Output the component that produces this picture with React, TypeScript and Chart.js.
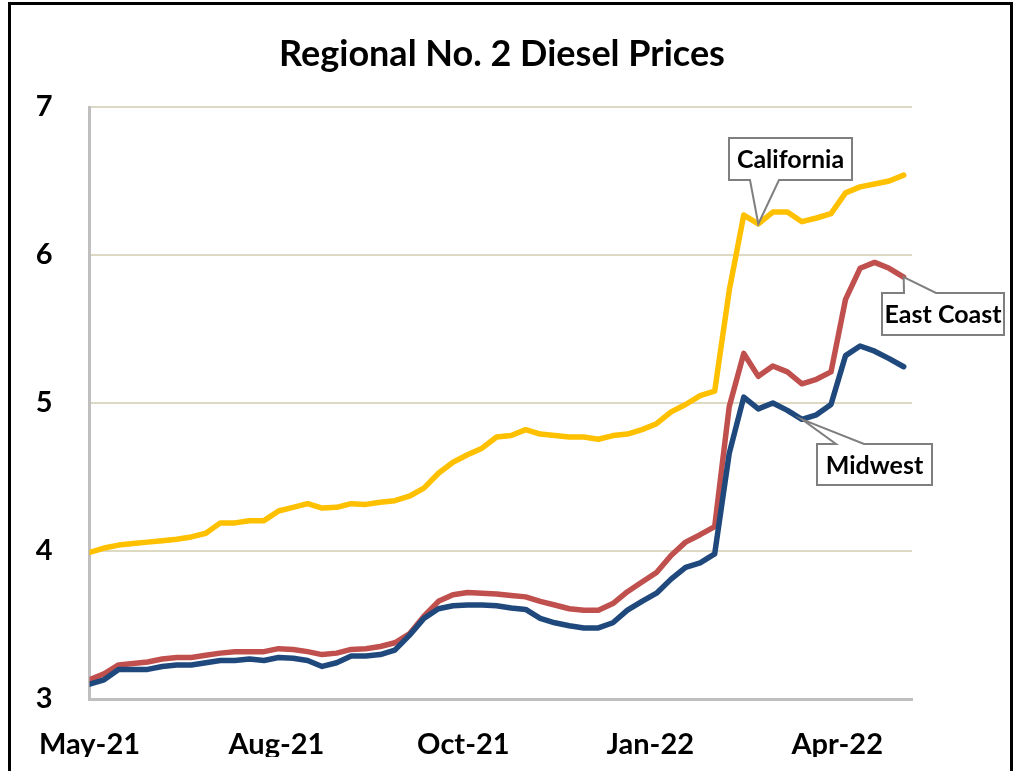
import { useEffect, useRef } from 'react';
import { Chart, registerables } from 'chart.js';

Chart.register(...registerables);

// Weekly prices, first week = 3 May 2021 (x measured in days from that date)
const startLabel = '2021-05-03';
const chartTitle = 'Regional No. 2 Diesel Prices';
const midwest = [
  3.10, 3.13, 3.20, 3.20, 3.20, 3.22, 3.23, 3.23, 3.245, 3.26, 3.26, 3.27, 3.26, 3.28, 3.275, 3.26, 3.22, 3.245, 3.29, 3.29, 3.30,
  3.33, 3.43, 3.545, 3.61, 3.63, 3.635, 3.635, 3.63, 3.615, 3.605, 3.545, 3.515, 3.495, 3.48, 3.48, 3.515, 3.60, 3.66, 3.715, 3.81,
  3.89, 3.92, 3.98, 4.66, 5.04, 4.96, 5.00, 4.95, 4.89, 4.92, 4.99, 5.32, 5.385, 5.35, 5.30, 5.245,
];
const eastCoast = [
  3.13, 3.17, 3.23, 3.24, 3.25, 3.27, 3.28, 3.28, 3.295, 3.31, 3.32, 3.32, 3.32, 3.34, 3.335, 3.32, 3.30, 3.31, 3.335, 3.34, 3.355,
  3.38, 3.44, 3.56, 3.66, 3.705, 3.72, 3.715, 3.71, 3.70, 3.69, 3.66, 3.635, 3.61, 3.60, 3.60, 3.645, 3.725, 3.79, 3.855, 3.97,
  4.06, 4.11, 4.165, 4.975, 5.335, 5.18, 5.25, 5.21, 5.13, 5.16, 5.21, 5.70, 5.91, 5.95, 5.91, 5.85,
];
const california = [
  3.99, 4.02, 4.04, 4.05, 4.06, 4.07, 4.08, 4.095, 4.12, 4.19, 4.19, 4.205, 4.205, 4.27, 4.295, 4.32, 4.29, 4.295, 4.32, 4.315, 4.33,
  4.34, 4.37, 4.425, 4.525, 4.60, 4.65, 4.695, 4.77, 4.78, 4.82, 4.79, 4.78, 4.77, 4.77, 4.755, 4.78, 4.79, 4.82, 4.86, 4.94,
  4.99, 5.05, 5.08, 5.76, 6.27, 6.21, 6.29, 6.29, 6.225, 6.25, 6.28, 6.42, 6.46, 6.48, 6.50, 6.54,
];
const seriesNames = ['Midwest', 'East Coast', 'California'];
const seriesColors = ['#1F497D', '#C0504D', '#FFC000'];
const xTickDays = [0, 90, 180, 270, 360];
const xTickLabels = ['May-21', 'Aug-21', 'Oct-21', 'Jan-22', 'Apr-22'];
const yTicks = [3, 4, 5, 6, 7];

const FONT = 'Lato, "Open Sans", sans-serif';

type Callout = {
  text: string;
  series: number;
  index: number;
  box: [number, number, number, number];
  side: 'top' | 'bottom';
  wedge: [number, number];
};

const callouts: Callout[] = [
  { text: 'California', series: 2, index: 46, box: [729, 138, 852, 180], side: 'bottom', wedge: [750, 779] },
  { text: 'East Coast', series: 1, index: 56, box: [882, 293, 1004, 335], side: 'top', wedge: [904, 936] },
  { text: 'Midwest', series: 0, index: 49, box: [817, 444, 932, 485], side: 'top', wedge: [836, 864] },
];

const titlePlugin = {
  id: 'customTitle',
  afterDraw(chart: any) {
    const ctx = chart.ctx;
    ctx.save();
    ctx.fillStyle = '#000000';
    ctx.font = `bold 36px ${FONT}`;
    ctx.textAlign = 'center';
    ctx.textBaseline = 'middle';
    ctx.fillText(chartTitle, 502, 54);
    ctx.restore();
  },
};

const calloutPlugin = {
  id: 'callouts',
  afterDatasetsDraw(chart: any) {
    const ctx = chart.ctx;
    const xs = chart.scales.x;
    const ys = chart.scales.y;
    const all = [midwest, eastCoast, california];
    ctx.save();
    for (const c of callouts) {
      const tx = xs.getPixelForValue(c.index * 7);
      const ty = ys.getPixelForValue(all[c.series][c.index]);
      const [l, t, r, b] = c.box;
      const [w1, w2] = c.wedge;
      ctx.beginPath();
      if (c.side === 'bottom') {
        ctx.moveTo(l, t);
        ctx.lineTo(r, t);
        ctx.lineTo(r, b);
        ctx.lineTo(w2, b);
        ctx.lineTo(tx, ty);
        ctx.lineTo(w1, b);
        ctx.lineTo(l, b);
      } else {
        ctx.moveTo(l, t);
        ctx.lineTo(w1, t);
        ctx.lineTo(tx, ty);
        ctx.lineTo(w2, t);
        ctx.lineTo(r, t);
        ctx.lineTo(r, b);
        ctx.lineTo(l, b);
      }
      ctx.closePath();
      ctx.fillStyle = '#ffffff';
      ctx.fill();
      ctx.lineWidth = 2;
      ctx.strokeStyle = '#7f7f7f';
      ctx.lineJoin = 'miter';
      ctx.stroke();
      ctx.fillStyle = '#000000';
      ctx.font = `bold 25px ${FONT}`;
      ctx.textAlign = 'center';
      ctx.textBaseline = 'middle';
      ctx.fillText(c.text, (l + r) / 2, (t + b) / 2 + 1);
    }
    ctx.restore();
  },
};

export default function App() {
  const ref = useRef<HTMLCanvasElement>(null);
  useEffect(() => {
    const canvas = ref.current!;
    const all = [midwest, eastCoast, california];
    const chart = new Chart(canvas, {
      type: 'line',
      data: {
        datasets: all.map((vals, s) => ({
          label: seriesNames[s],
          data: vals.map((v, i) => ({ x: i * 7, y: v })),
          borderColor: seriesColors[s],
          backgroundColor: seriesColors[s],
          borderWidth: 5.5,
          pointRadius: 0,
          tension: 0,
          borderJoinStyle: 'round' as const,
          borderCapStyle: 'round' as const,
          fill: false,
        })),
      },
      options: {
        responsive: false,
        animation: false,
        devicePixelRatio: 1,
        layout: { padding: { top: 107, left: 0, right: 105, bottom: 14 } },
        plugins: {
          legend: { display: false },
          tooltip: { enabled: false },
          title: { display: false, text: chartTitle },
        },
        scales: {
          x: {
            type: 'linear',
            min: 0,
            max: 396,
            grid: { display: false, drawTicks: false },
            border: { display: true, color: '#bfbfbf', width: 3 },
            afterBuildTicks: (scale: any) => {
              scale.ticks = xTickDays.map((v) => ({ value: v }));
            },
            afterFit: (scale: any) => {
              scale.height = 58;
            },
            ticks: {
              autoSkip: false,
              maxRotation: 0,
              padding: 28,
              color: '#000000',
              font: { family: FONT, size: 29, weight: 'bold' },
              callback: (v: any) => {
                const k = xTickDays.indexOf(Number(v));
                return k >= 0 ? xTickLabels[k] : '';
              },
            },
          },
          y: {
            type: 'linear',
            min: 3,
            max: 7,
            afterBuildTicks: (scale: any) => {
              scale.ticks = yTicks.map((v) => ({ value: v }));
            },
            afterFit: (scale: any) => {
              scale.width = 89.5;
            },
            grid: { color: '#ddd9c3', lineWidth: 2, drawTicks: false },
            border: { display: true, color: '#bfbfbf', width: 3 },
            ticks: {
              padding: 37,
              color: '#000000',
              font: { family: FONT, size: 29, weight: 'bold' },
              callback: (v: any) => String(v),
            },
          },
        },
      },
      plugins: [calloutPlugin, titlePlugin],
    });
    return () => chart.destroy();
  }, []);
  return (
    <div style={{ position: 'fixed', left: 0, top: 0, width: 1017, height: 771, overflow: 'hidden', background: '#ffffff' }}>
      <div
        data-start={startLabel}
        style={{ position: 'absolute', left: 8, top: 2, width: 1005, height: 800, border: '3px solid #000', boxSizing: 'border-box' }}
      />
      <canvas ref={ref} width={1017} height={771} style={{ position: 'absolute', left: 0, top: 0, width: 1017, height: 771 }} />
    </div>
  );
}
